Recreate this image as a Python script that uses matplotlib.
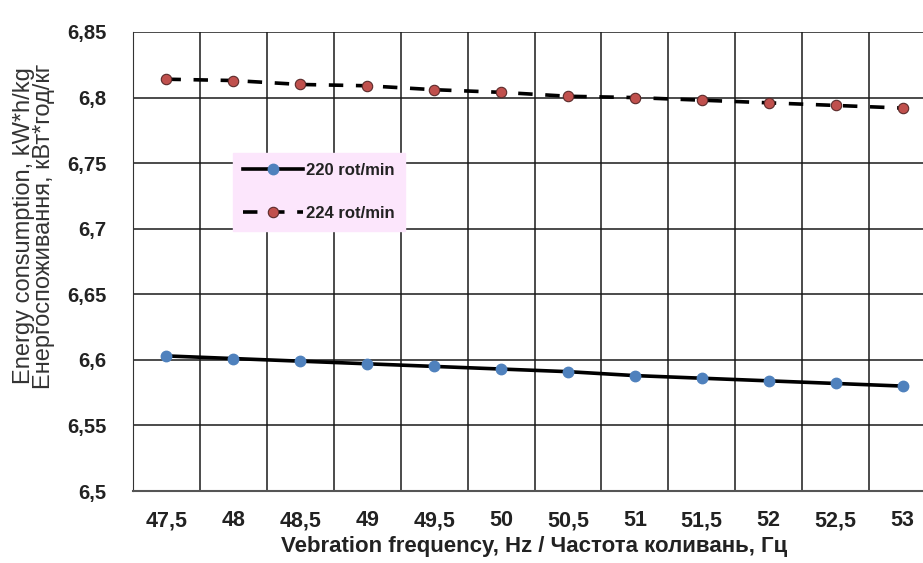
import matplotlib
matplotlib.use("Agg")
import matplotlib.pyplot as plt
from matplotlib import font_manager as fm

freq_labels = ["47,5", "48", "48,5", "49", "49,5", "50", "50,5", "51", "51,5", "52", "52,5", "53"]
rot220 = [6.603, 6.601, 6.599, 6.597, 6.595, 6.593, 6.591, 6.588, 6.586, 6.584, 6.582, 6.580]
rot224 = [6.814, 6.813, 6.810, 6.809, 6.806, 6.804, 6.801, 6.800, 6.798, 6.796, 6.794, 6.792]
yticks = [6.5, 6.55, 6.6, 6.65, 6.7, 6.75, 6.8, 6.85]
ytick_labels = ["6,5", "6,55", "6,6", "6,65", "6,7", "6,75", "6,8", "6,85"]

names = {f.name for f in fm.fontManager.ttflist}
fam = ["Liberation Sans Narrow", "Liberation Sans", "DejaVu Sans"] if "Liberation Sans Narrow" in names else ["Liberation Sans", "DejaVu Sans"]
plt.rcParams['font.family'] = fam
plt.rcParams['font.weight'] = 'bold'

fig = plt.figure(figsize=(9.23, 5.63), dpi=100)
W, H = 923, 563
left, right, top, bottom = 133, 936, 32, 491
ax = fig.add_axes([left / W, 1 - bottom / H, (right - left) / W, (bottom - top) / H])

x = list(range(len(freq_labels)))
ax.plot(x, rot220, color="black", lw=2.6, marker="o", ms=7.5, mfc="#4f81bd", mec="#4f81bd",
        label="220 rot/min", zorder=3)
ax.plot(x, rot224, color="black", lw=2.6, ls=(0, (4, 3.5)), marker="o", ms=7.5, mfc="#c0504d",
        mec="#5a2a2a", mew=0.8, label="224 rot/min", zorder=3)

ax.set_xlim(-0.5, len(freq_labels) - 0.5)
ax.set_ylim(6.5, 6.85)
ax.set_xticks(x)
ax.set_xticklabels(freq_labels, fontsize=15.5, fontweight="bold", color="#222222")
ax.set_xticks([i + 0.5 for i in x[:-1]], minor=True)
ax.set_yticks(yticks)
ax.set_yticklabels(ytick_labels, fontsize=14.5, fontweight="bold", color="#222222")
ax.tick_params(axis="x", which="major", length=0, pad=14)
ax.tick_params(axis="x", which="minor", length=0)
ax.tick_params(axis="y", length=0, pad=19)
ax.grid(True, which="minor", axis="x", color="#1a1a1a", lw=1.1)
ax.grid(True, which="major", axis="y", color="#1a1a1a", lw=1.1)
for s in ["top", "right"]:
    ax.spines[s].set_visible(False)
ax.spines["left"].set_color("#333333")
ax.spines["bottom"].set_color("#555555")
ax.spines["bottom"].set_linewidth(1.5)

ax.set_xlabel("Vebration frequency, Hz / Частота коливань, Гц", fontsize=16, fontweight="bold",
              color="#222222", labelpad=3)
ax.set_ylabel("Energy consumption, kW*h/kg\nЕнергоспоживання, кВт*год/кг", fontsize=17,
              color="#333333", fontweight="normal", linespacing=0.9, va="center", ha="center")
ax.yaxis.set_label_coords((34 - left) / (right - left), (bottom - 226) / (bottom - top))

leg = ax.legend(loc="upper left", bbox_to_anchor=((233 - left) / (right - left), 1 - (153 - top) / (bottom - top)),
                borderaxespad=0, fontsize=12, frameon=True, facecolor="#fce6fc", edgecolor="#fce6fc",
                framealpha=1, fancybox=False, handlelength=3.6, handletextpad=0.2, borderpad=0.6,
                labelspacing=1.65)
for t in leg.get_texts():
    t.set_fontweight("bold")
    t.set_color("#222222")

fig.savefig("out.png", dpi=100)
